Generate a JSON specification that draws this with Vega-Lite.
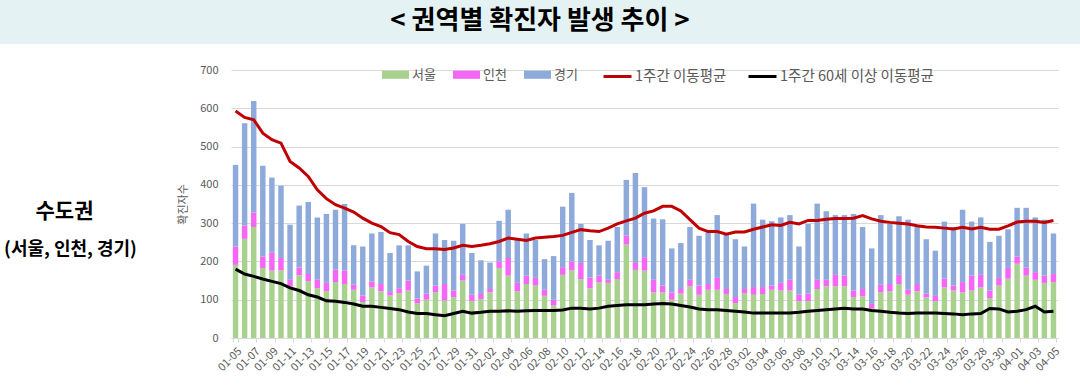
{
  "$schema": "https://vega.github.io/schema/vega-lite/v6.json",
  "padding": 0,
  "background": "white",
  "bounds": "flush",
  "spacing": 26,
  "config": {
    "font": "Noto Sans CJK KR",
    "view": {"stroke": null},
    "axis": {"labelFont": "Noto Sans CJK KR", "titleFont": "Noto Sans CJK KR"},
    "legend": {"labelFont": "Noto Sans CJK KR", "padding": 0}
  },
  "datasets": {
    "main": [
      {"d": "01-05", "서울": 191, "인천": 48, "경기": 213, "1주간 이동평균": 593, "1주간 60세 이상 이동평균": 180},
      {"d": "01-06", "서울": 259, "인천": 35, "경기": 267, "1주간 이동평균": 576, "1주간 60세 이상 이동평균": 167},
      {"d": "01-07", "서울": 290, "인천": 38, "경기": 291, "1주간 이동평균": 570, "1주간 60세 이상 이동평균": 161},
      {"d": "01-08", "서울": 183, "인천": 30, "경기": 237, "1주간 이동평균": 535, "1주간 60세 이상 이동평균": 154},
      {"d": "01-09", "서울": 176, "인천": 48, "경기": 195, "1주간 이동평균": 518, "1주간 60세 이상 이동평균": 148},
      {"d": "01-10", "서울": 177, "인천": 32, "경기": 189, "1주간 이동평균": 509, "1주간 60세 이상 이동평균": 142},
      {"d": "01-11", "서울": 135, "인천": 17, "경기": 144, "1주간 이동평균": 461, "1주간 60세 이상 이동평균": 131},
      {"d": "01-12", "서울": 164, "인천": 20, "경기": 162, "1주간 이동평균": 444, "1주간 60세 이상 이동평균": 124},
      {"d": "01-13", "서울": 148, "인천": 19, "경기": 188, "1주간 이동평균": 422, "1주간 60세 이상 이동평균": 113},
      {"d": "01-14", "서울": 130, "인천": 22, "경기": 163, "1주간 이동평균": 387, "1주간 60세 이상 이동평균": 107},
      {"d": "01-15", "서울": 122, "인천": 22, "경기": 180, "1주간 이동평균": 364, "1주간 60세 이상 이동평균": 97},
      {"d": "01-16", "서울": 146, "인천": 32, "경기": 157, "1주간 이동평균": 348, "1주간 60세 이상 이동평균": 96},
      {"d": "01-17", "서울": 141, "인천": 35, "경기": 174, "1주간 이동평균": 339, "1주간 60세 이상 이동평균": 93},
      {"d": "01-18", "서울": 126, "인천": 13, "경기": 103, "1주간 이동평균": 329, "1주간 60세 이상 이동평균": 89},
      {"d": "01-19", "서울": 94, "인천": 17, "경기": 128, "1주간 이동평균": 313, "1주간 60세 이상 이동평균": 83},
      {"d": "01-20", "서울": 132, "인천": 16, "경기": 125, "1주간 이동평균": 300, "1주간 60세 이상 이동평균": 83},
      {"d": "01-21", "서울": 122, "인천": 19, "경기": 136, "1주간 이동평균": 291, "1주간 60세 이상 이동평균": 80},
      {"d": "01-22", "서울": 111, "인천": 9, "경기": 102, "1주간 이동평균": 275, "1주간 60세 이상 이동평균": 77},
      {"d": "01-23", "서울": 117, "인천": 13, "경기": 112, "1주간 이동평균": 270, "1주간 60세 이상 이동평균": 74},
      {"d": "01-24", "서울": 124, "인천": 26, "경기": 92, "1주간 이동평균": 252, "1주간 60세 이상 이동평균": 68},
      {"d": "01-25", "서울": 91, "인천": 12, "경기": 71, "1주간 이동평균": 239, "1주간 60세 이상 이동평균": 64},
      {"d": "01-26", "서울": 100, "인천": 16, "경기": 73, "1주간 이동평균": 233, "1주간 60세 이상 이동평균": 64},
      {"d": "01-27", "서울": 119, "인천": 18, "경기": 136, "1주간 이동평균": 233, "1주간 60세 이상 이동평균": 61},
      {"d": "01-28", "서울": 98, "인천": 43, "경기": 115, "1주간 이동평균": 231, "1주간 60세 이상 이동평균": 58},
      {"d": "01-29", "서울": 107, "인천": 17, "경기": 130, "1주간 이동평균": 235, "1주간 60세 이상 이동평균": 64},
      {"d": "01-30", "서울": 150, "인천": 15, "경기": 133, "1주간 이동평균": 242, "1주간 60세 이상 이동평균": 70},
      {"d": "01-31", "서울": 97, "인천": 16, "경기": 109, "1주간 이동평균": 239, "1주간 60세 이상 이동평균": 65},
      {"d": "02-01", "서울": 102, "인천": 13, "경기": 88, "1주간 이동평균": 242, "1주간 60세 이상 이동평균": 67},
      {"d": "02-02", "서울": 119, "인천": 9, "경기": 69, "1주간 이동평균": 246, "1주간 60세 이상 이동평균": 70},
      {"d": "02-03", "서울": 183, "인천": 17, "경기": 106, "1주간 이동평균": 252, "1주간 60세 이상 이동평균": 70},
      {"d": "02-04", "서울": 163, "인천": 46, "경기": 126, "1주간 이동평균": 261, "1주간 60세 이상 이동평균": 71},
      {"d": "02-05", "서울": 122, "인천": 22, "경기": 112, "1주간 이동평균": 258, "1주간 60세 이상 이동평균": 70},
      {"d": "02-06", "서울": 141, "인천": 22, "경기": 110, "1주간 이동평균": 255, "1주간 60세 이상 이동평균": 71},
      {"d": "02-07", "서울": 137, "인천": 20, "경기": 99, "1주간 이동평균": 261, "1주간 60세 이상 이동평균": 72},
      {"d": "02-08", "서울": 110, "인천": 16, "경기": 80, "1주간 이동평균": 263, "1주간 60세 이상 이동평균": 72},
      {"d": "02-09", "서울": 85, "인천": 15, "경기": 114, "1주간 이동평균": 265, "1주간 60세 이상 이동평균": 72},
      {"d": "02-10", "서울": 165, "인천": 20, "경기": 158, "1주간 이동평균": 268, "1주간 60세 이상 이동평균": 73},
      {"d": "02-11", "서울": 177, "인천": 23, "경기": 179, "1주간 이동평균": 276, "1주간 60세 이상 이동평균": 78},
      {"d": "02-12", "서울": 154, "인천": 42, "경기": 102, "1주간 이동평균": 283, "1주간 60세 이상 이동평균": 78},
      {"d": "02-13", "서울": 130, "인천": 28, "경기": 98, "1주간 이동평균": 280, "1주간 60세 이상 이동평균": 76},
      {"d": "02-14", "서울": 145, "인천": 18, "경기": 79, "1주간 이동평균": 278, "1주간 60세 이상 이동평균": 78},
      {"d": "02-15", "서울": 144, "인천": 8, "경기": 102, "1주간 이동평균": 287, "1주간 60세 이상 이동평균": 83},
      {"d": "02-16", "서울": 154, "인천": 18, "경기": 118, "1주간 이동평균": 298, "1주간 60세 이상 이동평균": 85},
      {"d": "02-17", "서울": 244, "인천": 24, "경기": 145, "1주간 이동평균": 306, "1주간 60세 이상 이동평균": 87},
      {"d": "02-18", "서울": 178, "인천": 18, "경기": 235, "1주간 이동평균": 313, "1주간 60세 이상 이동평균": 87},
      {"d": "02-19", "서울": 176, "인천": 35, "경기": 183, "1주간 이동평균": 326, "1주간 60세 이상 이동평균": 87},
      {"d": "02-20", "서울": 119, "인천": 33, "경기": 160, "1주간 이동평균": 332, "1주간 60세 이상 이동평균": 89},
      {"d": "02-21", "서울": 119, "인천": 18, "경기": 173, "1주간 이동평균": 344, "1주간 60세 이상 이동평균": 90},
      {"d": "02-22", "서울": 100, "인천": 19, "경기": 115, "1주간 이동평균": 344, "1주간 60세 이상 이동평균": 89},
      {"d": "02-23", "서울": 116, "인천": 12, "경기": 120, "1주간 이동평균": 332, "1주간 60세 이상 이동평균": 85},
      {"d": "02-24", "서울": 135, "인천": 17, "경기": 138, "1주간 이동평균": 309, "1주간 60세 이상 이동평균": 81},
      {"d": "02-25", "서울": 113, "인천": 24, "경기": 130, "1주간 이동평균": 287, "1주간 60세 이상 이동평균": 76},
      {"d": "02-26", "서울": 126, "인천": 15, "경기": 135, "1주간 이동평균": 278, "1주간 60세 이상 이동평균": 74},
      {"d": "02-27", "서울": 126, "인천": 31, "경기": 164, "1주간 이동평균": 278, "1주간 60세 이상 이동평균": 74},
      {"d": "02-28", "서울": 115, "인천": 13, "경기": 142, "1주간 이동평균": 271, "1주간 60세 이상 이동평균": 72},
      {"d": "03-01", "서울": 91, "인천": 16, "경기": 151, "1주간 이동평균": 277, "1주간 60세 이상 이동평균": 70},
      {"d": "03-02", "서울": 117, "인천": 11, "경기": 111, "1주간 이동평균": 277, "1주간 60세 이상 이동평균": 68},
      {"d": "03-03", "서울": 113, "인천": 20, "경기": 218, "1주간 이동평균": 284, "1주간 60세 이상 이동평균": 65},
      {"d": "03-04", "서울": 115, "인천": 18, "경기": 176, "1주간 이동평균": 290, "1주간 60세 이상 이동평균": 65},
      {"d": "03-05", "서울": 126, "인천": 11, "경기": 168, "1주간 이동평균": 296, "1주간 60세 이상 이동평균": 65},
      {"d": "03-06", "서울": 124, "인천": 20, "경기": 171, "1주간 이동평균": 294, "1주간 60세 이상 이동평균": 65},
      {"d": "03-07", "서울": 124, "인천": 28, "경기": 169, "1주간 이동평균": 302, "1주간 60세 이상 이동평균": 65},
      {"d": "03-08", "서울": 96, "인천": 17, "경기": 126, "1주간 이동평균": 298, "1주간 60세 이상 이동평균": 67},
      {"d": "03-09", "서울": 96, "인천": 20, "경기": 182, "1주간 이동평균": 307, "1주간 60세 이상 이동평균": 70},
      {"d": "03-10", "서울": 128, "인천": 24, "경기": 199, "1주간 이동평균": 307, "1주간 60세 이상 이동평균": 72},
      {"d": "03-11", "서울": 135, "인천": 17, "경기": 179, "1주간 이동평균": 310, "1주간 60세 이상 이동평균": 74},
      {"d": "03-12", "서울": 135, "인천": 30, "경기": 156, "1주간 이동평균": 312, "1주간 60세 이상 이동평균": 76},
      {"d": "03-13", "서울": 135, "인천": 28, "경기": 158, "1주간 이동평균": 312, "1주간 60세 이상 이동평균": 78},
      {"d": "03-14", "서울": 107, "인천": 17, "경기": 200, "1주간 이동평균": 313, "1주간 60세 이상 이동평균": 76},
      {"d": "03-15", "서울": 109, "인천": 19, "경기": 162, "1주간 이동평균": 320, "1주간 60세 이상 이동평균": 76},
      {"d": "03-16", "서울": 78, "인천": 11, "경기": 145, "1주간 이동평균": 311, "1주간 60세 이상 이동평균": 72},
      {"d": "03-17", "서울": 119, "인천": 20, "경기": 182, "1주간 이동평균": 305, "1주간 60세 이상 이동평균": 70},
      {"d": "03-18", "서울": 122, "인천": 19, "경기": 157, "1주간 이동평균": 302, "1주간 60세 이상 이동평균": 67},
      {"d": "03-19", "서울": 141, "인천": 24, "경기": 153, "1주간 이동평균": 300, "1주간 60세 이상 이동평균": 65},
      {"d": "03-20", "서울": 113, "인천": 13, "경기": 183, "1주간 이동평균": 298, "1주간 60세 이상 이동평균": 64},
      {"d": "03-21", "서울": 122, "인천": 19, "경기": 150, "1주간 이동평균": 293, "1주간 60세 이상 이동평균": 65},
      {"d": "03-22", "서울": 106, "인천": 10, "경기": 142, "1주간 이동평균": 290, "1주간 60세 이상 이동평균": 65},
      {"d": "03-23", "서울": 96, "인천": 14, "경기": 118, "1주간 이동평균": 289, "1주간 60세 이상 이동평균": 65},
      {"d": "03-24", "서울": 132, "인천": 23, "경기": 149, "1주간 이동평균": 287, "1주간 60세 이상 이동평균": 64},
      {"d": "03-25", "서울": 124, "인천": 13, "경기": 153, "1주간 이동평균": 285, "1주간 60세 이상 이동평균": 63},
      {"d": "03-26", "서울": 119, "인천": 27, "경기": 189, "1주간 이동평균": 289, "1주간 60세 이상 이동평균": 61},
      {"d": "03-27", "서울": 124, "인천": 39, "경기": 141, "1주간 이동평균": 285, "1주간 60세 이상 이동평균": 63},
      {"d": "03-28", "서울": 132, "인천": 33, "경기": 150, "1주간 이동평균": 289, "1주간 60세 이상 이동평균": 64},
      {"d": "03-29", "서울": 104, "인천": 20, "경기": 127, "1주간 이동평균": 284, "1주간 60세 이상 이동평균": 77},
      {"d": "03-30", "서울": 137, "인천": 20, "경기": 110, "1주간 이동평균": 284, "1주간 60세 이상 이동평균": 76},
      {"d": "03-31", "서울": 155, "인천": 28, "경기": 101, "1주간 이동평균": 293, "1주간 60세 이상 이동평균": 68},
      {"d": "04-01", "서울": 194, "인천": 19, "경기": 127, "1주간 이동평균": 303, "1주간 60세 이상 이동평균": 70},
      {"d": "04-02", "서울": 163, "인천": 21, "경기": 156, "1주간 이동평균": 305, "1주간 60세 이상 이동평균": 74},
      {"d": "04-03", "서울": 152, "인천": 20, "경기": 143, "1주간 이동평균": 305, "1주간 60세 이상 이동평균": 83},
      {"d": "04-04", "서울": 144, "인천": 19, "경기": 146, "1주간 이동평균": 302, "1주간 60세 이상 이동평균": 68},
      {"d": "04-05", "서울": 146, "인천": 21, "경기": 106, "1주간 이동평균": 307, "1주간 60세 이상 이동평균": 70}
    ]
  },
  "vconcat": [
    {
      "width": 1080,
      "height": 44,
      "view": {"fill": "#e4f2f4", "stroke": null},
      "data": {"values": [{"t": "< 권역별 확진자 발생 추이 >"}]},
      "mark": {"type": "text", "fontSize": 26, "fontWeight": "bold", "color": "#000000", "dy": -1},
      "encoding": {"text": {"field": "t", "type": "nominal"}}
    },
    {
      "bounds": "flush",
      "spacing": 0,
      "hconcat": [
        {
          "width": 231,
          "height": 268,
          "layer": [
            {
              "data": {"values": [{"t": "수도권"}]},
              "mark": {"type": "text", "fontSize": 21, "fontWeight": "bold", "color": "#000000", "dx": -51, "dy": 8},
              "encoding": {"text": {"field": "t", "type": "nominal"}}
            },
            {
              "data": {"values": [{"t": "(서울, 인천, 경기)"}]},
              "mark": {"type": "text", "fontSize": 18, "fontWeight": "bold", "color": "#000000", "dx": -45, "dy": 46},
              "encoding": {"text": {"field": "t", "type": "nominal"}}
            }
          ]
        },
        {
          "width": 827,
          "height": 268,
          "data": {"name": "main"},
          "encoding": {
            "x": {
              "field": "d",
              "type": "ordinal",
              "title": null,
              "scale": {"paddingInner": 0.4, "paddingOuter": 0.2},
              "axis": {
                "values": ["01-05","01-07","01-09","01-11","01-13","01-15","01-17","01-19","01-21","01-23","01-25","01-27","01-29","01-31","02-02","02-04","02-06","02-08","02-10","02-12","02-14","02-16","02-18","02-20","02-22","02-24","02-26","02-28","03-02","03-04","03-06","03-08","03-10","03-12","03-14","03-16","03-18","03-20","03-22","03-24","03-26","03-28","03-30","04-01","04-03","04-05"],
                "labelAngle": -45,
                "labelFontSize": 11,
                "labelColor": "#595959",
                "domainColor": "#d9d9d9",
                "tickColor": "#d9d9d9",
                "tickBand": "extent",
                "tickSize": 4,
                "labelPadding": 3,
                "grid": false
              }
            }
          },
          "layer": [
            {
              "transform": [
                {"fold": ["서울", "인천", "경기"], "as": ["region", "cases"]},
                {"window": [{"op": "row_number", "as": "rank"}], "groupby": ["d"]}
              ],
              "mark": {"type": "bar"},
              "encoding": {
                "y": {
                  "field": "cases",
                  "type": "quantitative",
                  "stack": "zero",
                  "title": "확진자수",
                  "scale": {"domain": [0, 700], "nice": false},
                  "axis": {
                    "values": [0, 100, 200, 300, 400, 500, 600, 700],
                    "grid": true,
                    "gridColor": "#d9d9d9",
                    "domain": false,
                    "ticks": false,
                    "labelPadding": 13,
                    "labelFontSize": 11,
                    "labelColor": "#595959",
                    "titleColor": "#595959",
                    "titleFontSize": 11,
                    "titleFontWeight": "normal",
                    "titlePadding": 10,
                    "minExtent": 33,
                    "maxExtent": 33
                  }
                },
                "order": {"field": "rank", "type": "quantitative", "sort": "ascending"},
                "color": {
                  "field": "region",
                  "type": "nominal",
                  "scale": {"domain": ["서울", "인천", "경기"], "range": ["#a9d18e", "#f566f5", "#8eaadb"]},
                  "legend": {
                    "title": null,
                    "orient": "none",
                    "legendX": 382,
                    "legendY": 61,
                    "direction": "horizontal",
                    "columns": 3,
                    "symbolType": "M-1,-0.3H1V0.3H-1Z",
                    "symbolSize": 729,
                    "symbolStrokeWidth": 0,
                    "symbolOpacity": 1,
                    "labelFontSize": 13,
                    "labelColor": "#595959",
                    "labelOffset": 3,
                    "columnPadding": 17
                  }
                }
              }
            },
            {
              "transform": [{"fold": ["1주간 이동평균", "1주간 60세 이상 이동평균"], "as": ["series", "avg"]}],
              "mark": {"type": "line", "strokeWidth": 3},
              "encoding": {
                "y": {
                  "field": "avg",
                  "type": "quantitative",
                  "title": "확진자수",
                  "scale": {"domain": [0, 700], "nice": false},
                  "axis": {
                    "values": [0, 100, 200, 300, 400, 500, 600, 700],
                    "grid": true,
                    "gridColor": "#d9d9d9",
                    "domain": false,
                    "ticks": false,
                    "labelPadding": 13,
                    "labelFontSize": 11,
                    "labelColor": "#595959",
                    "titleColor": "#595959",
                    "titleFontSize": 11,
                    "titleFontWeight": "normal",
                    "titlePadding": 10,
                    "minExtent": 33,
                    "maxExtent": 33
                  }
                },
                "stroke": {
                  "field": "series",
                  "type": "nominal",
                  "scale": {"domain": ["1주간 이동평균", "1주간 60세 이상 이동평균"], "range": ["#c00000", "#000000"]},
                  "legend": {
                    "title": null,
                    "orient": "none",
                    "legendX": 602,
                    "legendY": 61,
                    "direction": "horizontal",
                    "columns": 2,
                    "symbolType": "stroke",
                    "symbolSize": 784,
                    "symbolStrokeWidth": 3,
                    "labelFontSize": 14.5,
                    "labelColor": "#595959",
                    "labelOffset": 2,
                    "columnPadding": 15
                  }
                }
              }
            }
          ]
        }
      ]
    }
  ]
}
